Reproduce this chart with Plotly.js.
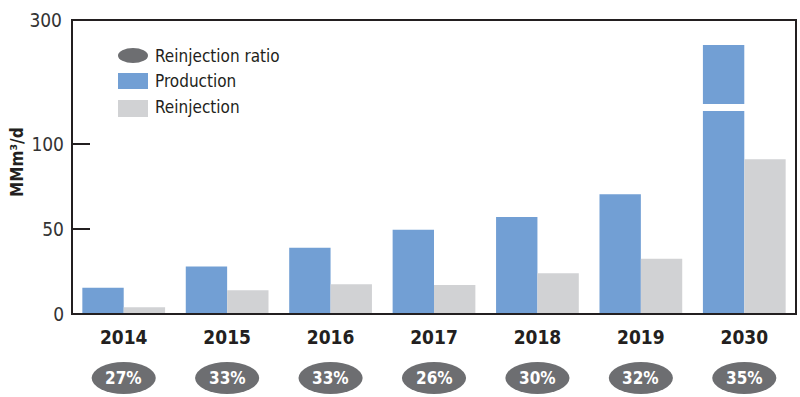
<!DOCTYPE html>
<html>
<head>
<meta charset="utf-8">
<script src="https://cdn.plot.ly/plotly-3.0.1.min.js"></script>
<style>
  html, body { margin: 0; padding: 0; background: #ffffff; }
  #chart { width: 800px; height: 397px; }
</style>
</head>
<body>
<div id="chart"></div>
<script>
// ---- data ----
const years = ['2014', '2015', '2016', '2017', '2018', '2019', '2030'];
const production = [15.5, 28, 39, 49.5, 57, 70.5, 260];
const reinjection = [4, 14, 17.5, 17, 24, 32.5, 91];
const ratioLabels = ['27%', '33%', '33%', '26%', '30%', '32%', '35%'];
const legendLabels = ['Reinjection ratio', 'Production', 'Reinjection'];

// ---- style ----
const FONT = '"DejaVu Sans Condensed", "Liberation Sans Narrow", sans-serif';
const BLUE = '#729fd4';
const GREY = '#d1d2d4';
const DARK = '#6d6e71';
const INK = '#231f20';

const W = 800, H = 397;
const M = {l: 72, r: 4, t: 20, b: 83};
const PW = W - M.l - M.r, PH = H - M.t - M.b;
const px = x => (x - M.l) / PW;          // pixel x -> paper x
const py = y => (H - M.b - y) / PH;      // pixel y -> paper y

const lowerTop = py(111);
const upperBottom = py(104);

const traces = [
  {type: 'bar', x: years, y: production, xaxis: 'x', yaxis: 'y',
   marker: {color: BLUE}, offset: -0.4, width: 0.4, hoverinfo: 'x+y', name: 'Production'},
  {type: 'bar', x: years, y: reinjection, xaxis: 'x', yaxis: 'y',
   marker: {color: GREY}, offset: 0, width: 0.4, hoverinfo: 'x+y', name: 'Reinjection'},
  {type: 'bar', x: years, y: production, xaxis: 'x', yaxis: 'y2',
   marker: {color: BLUE}, offset: -0.4, width: 0.4, hoverinfo: 'x+y', name: 'Production'}
];

const shapes = [];
const annotations = [];

// ratio ellipses + labels under each year
years.forEach((yr, i) => {
  shapes.push({type: 'circle', xref: 'x', yref: 'paper',
    x0: i - 0.31, x1: i + 0.31, y0: py(394), y1: py(362),
    fillcolor: DARK, line: {width: 0}, layer: 'above'});
  annotations.push({xref: 'x', yref: 'paper', x: i, y: py(378),
    text: ratioLabels[i], showarrow: false, xanchor: 'center', yanchor: 'middle',
    font: {family: FONT, size: 17, color: '#ffffff', weight: 'bold'}});
});

// frame
shapes.push({type: 'rect', xref: 'paper', yref: 'paper', x0: 0, x1: 1, y0: 0, y1: 1,
  line: {color: INK, width: 2}, fillcolor: 'rgba(0,0,0,0)', layer: 'above'});

// legend
shapes.push({type: 'circle', xref: 'paper', yref: 'paper',
  x0: px(118), x1: px(148), y0: py(63), y1: py(48), fillcolor: DARK, line: {width: 0}});
shapes.push({type: 'rect', xref: 'paper', yref: 'paper',
  x0: px(118), x1: px(148), y0: py(89), y1: py(73), fillcolor: BLUE, line: {width: 0}});
shapes.push({type: 'rect', xref: 'paper', yref: 'paper',
  x0: px(118), x1: px(148), y0: py(117), y1: py(100), fillcolor: GREY, line: {width: 0}});
[56, 81, 107].forEach((yy, k) => {
  annotations.push({xref: 'paper', yref: 'paper', x: px(153), y: py(yy),
    text: legendLabels[k], showarrow: false, xanchor: 'left', yanchor: 'middle',
    font: {family: FONT, size: 17, color: INK}});
});

// y title
annotations.push({xref: 'paper', yref: 'paper', x: px(17), y: py(162),
  text: 'MMm³/d', showarrow: false, textangle: -90, xanchor: 'center', yanchor: 'middle',
  font: {family: FONT, size: 17, color: INK, weight: 'bold'}});

const layout = {
  width: W, height: H,
  margin: M,
  paper_bgcolor: '#ffffff', plot_bgcolor: '#ffffff',
  showlegend: false,
  barmode: 'overlay',
  font: {family: FONT, color: INK},
  xaxis: {
    type: 'category', range: [-0.5, 6.5], anchor: 'y',
    showgrid: false, zeroline: false, showline: false, ticks: '',
    tickfont: {family: FONT, size: 19, color: INK, weight: 'bold'},
    ticklabelstandoff: 10
  },
  yaxis: {
    domain: [0, lowerTop], range: [0, (H - M.b - 111) / ((H - M.b - 144) / 100)],
    tickvals: [0, 50, 100], ticktext: ['0', '50', '100'],
    ticks: 'inside', ticklen: 18, tickwidth: 1.5, tickcolor: INK,
    showgrid: false, zeroline: false, showline: false,
    tickfont: {family: FONT, size: 19, color: '#333333'},
    ticklabelstandoff: 7
  },
  yaxis2: {
    domain: [upperBottom, 1], range: [165, 300], anchor: 'x',
    tickvals: [300], ticktext: ['300'],
    ticks: '', showgrid: false, zeroline: false, showline: false,
    tickfont: {family: FONT, size: 19, color: '#333333'},
    ticklabelstandoff: 9
  },
  shapes: shapes,
  annotations: annotations
};

Plotly.newPlot('chart', traces, layout, {displayModeBar: false, staticPlot: true});
</script>
</body>
</html>
